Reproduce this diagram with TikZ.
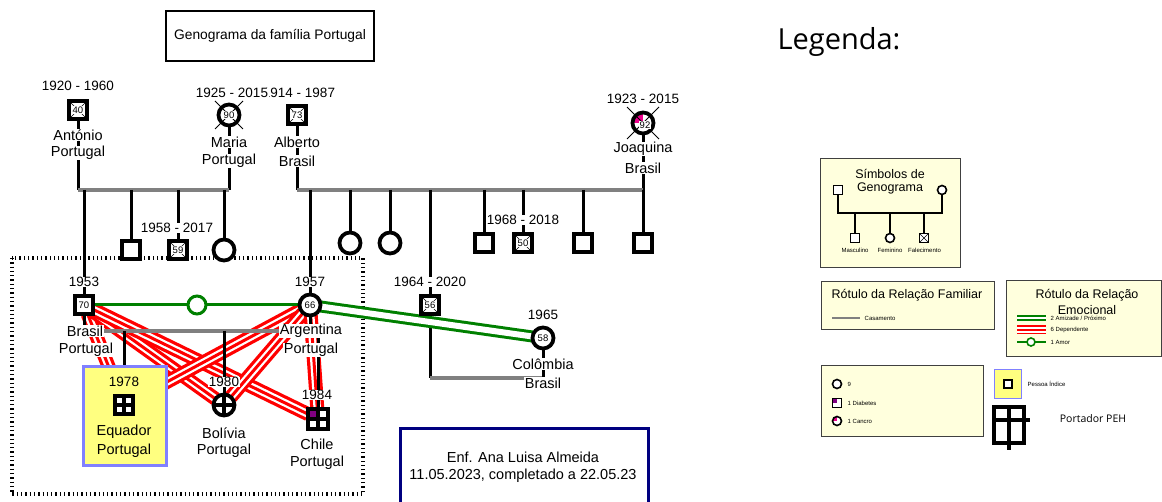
\documentclass[tikz,border=0pt]{standalone}
\usepackage{fontspec}
\setmainfont{Liberation Sans}
\newfontfamily\osans{Open Sans}
\usetikzlibrary{calc}
\definecolor{kgray}{RGB}{128,128,128}
\definecolor{lgreen}{RGB}{0,128,0}
\definecolor{idxyellow}{RGB}{255,255,128}
\definecolor{idxblue}{RGB}{128,128,255}
\definecolor{legfill}{RGB}{255,255,221}
\definecolor{navyb}{RGB}{0,0,128}
\definecolor{dpurple}{RGB}{128,0,128}
\definecolor{legdraw}{RGB}{64,64,64}
\pgfdeclarelayer{back}
\pgfsetlayers{back,main}
\begin{document}
\begin{tikzpicture}[x=1pt,y=-1pt,
  sym/.style={draw, line width=3.8pt, fill=white, inner sep=0pt, outer sep=0pt},
  male/.style={sym, rectangle, minimum size=18pt},
  female/.style={sym, circle, minimum size=21pt},
  dx/.style={path picture={\draw[line width=0.6pt] (path picture bounding box.south west) -- (path picture bounding box.north east) (path picture bounding box.north west) -- (path picture bounding box.south east);}},
  peh/.style={path picture={\draw[line width=3.2pt] (path picture bounding box.north) -- (path picture bounding box.south) (path picture bounding box.west) -- (path picture bounding box.east);}},
  txt/.style={font=\fontsize{14.5}{16}\selectfont, fill=white, inner sep=0.7pt},
  date/.style={font=\fontsize{13.5}{15}\selectfont, fill=white, inner sep=0.7pt},
  num/.style={font=\fontsize{9.5}{11}\selectfont, fill=white, inner sep=0.5pt},
  kin/.style={line width=3pt, black},
  marr/.style={line width=4pt, kgray},
  xline/.style={line width=0.8pt, black},
  friend/.style={draw=lgreen, line width=3pt, double=white, double distance=6pt},
  love/.style={draw=lgreen, line width=3pt},
  lovecirc/.style={circle, draw=lgreen, line width=3pt, fill=white, minimum size=18pt, inner sep=0pt},
  legbox/.style={draw=legdraw, fill=legfill, line width=1pt, inner sep=0pt},
  legtitle/.style={font=\fontsize{12.5}{14}\selectfont, inner sep=0.5pt},
  tiny/.style={font=\fontsize{6}{7}\selectfont, inner sep=0.5pt},
  lmale/.style={draw, line width=1.6pt, fill=white, rectangle, minimum size=9pt, inner sep=0pt},
  lfemale/.style={draw, line width=1.6pt, fill=white, circle, minimum size=9pt, inner sep=0pt},
  lkin/.style={line width=1.5pt, black}
]
\useasboundingbox (0,0) rectangle (1162,502);

% ---------- title ----------
\node[draw, line width=1.8pt, minimum width=208pt, minimum height=50pt, inner sep=0pt] (title) at (270,36) {\fontsize{13.8}{16}\selectfont Genograma da família Portugal};

% ---------- generation 1 ----------
\node[male, dx] (antonio) at (78,110) {};
\node[num] (antonioK) at (antonio) {40};
\node[date] (antonioD) at (78,86) {1920 - 1960};
\node[txt] (antonioA) at (78,135) {António};
\node[txt] (antonioB) at (78,153) {Portugal};

\node[female] (maria) at (229,115) {};
\draw[xline] ([shift={(-14,-14)}]maria.center) -- ([shift={(14,14)}]maria.center);
\draw[xline] ([shift={(-14,14)}]maria.center) -- ([shift={(14,-14)}]maria.center);
\node[num] (mariaK) at (maria) {90};
\node[txt] (mariaA) at (229,142) {Maria};
\node[txt] (mariaB) at (229,161) {Portugal};

\node[male, dx] (alberto) at (297,115) {};
\node[num] (albertoK) at (alberto) {73};
\node[date] (albertoD) at (299,93) {1914 - 1987};
\node[date] (mariaD) at (232,93) {1925 - 2015};
\node[txt] (albertoA) at (297,142) {Alberto};
\node[txt] (albertoB) at (297,161) {Brasil};

\node[female, path picture={\fill[magenta] (path picture bounding box.north west) rectangle (path picture bounding box.center);}] (joaquina) at (643,123) {};
\draw[xline] ([shift={(-16,-16)}]joaquina.center) -- ([shift={(16,16)}]joaquina.center);
\draw[xline] ([shift={(-16,16)}]joaquina.center) -- ([shift={(16,-16)}]joaquina.center);
\node[num] (joaquinaK) at ([shift={(2,2)}]joaquina.center) {92};
\node[date] (joaquinaD) at (643,99) {1923 - 2015};
\node[txt] (joaquinaA) at (643,149) {Joaquina};
\node[txt] (joaquinaB) at (643,168) {Brasil};

% children generation (siblings)
\node[male] (ca) at (131,250) {};
\node[male, dx] (cb) at (178,250) {};
\node[num] (cbK) at (cb) {59};
\node[date] (cbD) at (177,228) {1958 - 2017};
\node[female] (cc) at (224,250) {};

\node[female] (cd) at (350,243) {};
\node[female] (ce) at (390,243) {};
\node[male] (cf) at (484,243) {};
\node[male, dx] (cg) at (523,243) {};
\node[num] (cgK) at (cg) {50};
\node[date] (cgD) at (523,220) {1968 - 2018};
\node[male] (ch) at (583,243) {};
\node[male] (ci) at (643,243) {};

% ---------- generation 2 ----------
\node[male] (s1953) at (84,305) {};
\node[num] (s1953K) at (s1953) {70};
\node[date] (s1953D) at (84,282) {1953};

\node[female] (c1957) at (310,305) {};
\node[num] (c1957K) at (c1957) {66};
\node[date] (c1957D) at (310,282) {1957};

\node[male, dx] (sq56) at (430,305) {};
\node[num] (sq56K) at (sq56) {56};
\node[date] (sq56D) at (430,282) {1964 - 2020};

\node[female] (colombia) at (543,338) {};
\node[num] (colombiaK) at (colombia) {58};
\node[date] (colombiaD) at (543,315) {1965};
\node[txt] (colombiaA) at (543,364) {Colômbia};
\node[txt] (colombiaB) at (543,383) {Brasil};

\node[lovecirc] (lovec) at (197,305) {};

% index person box
\node[draw=idxblue, fill=idxyellow, line width=3pt, minimum width=83pt, minimum height=99pt, inner sep=0pt] (eqbox) at (125,416) {};
\node[male, peh] (eqs) at (124,405) {};
\node[date, fill=none] (eqD) at (124,382) {1978};
\node[txt, fill=none] (eqA) at (124,432) {Equador};
\node[txt, fill=none] (eqB) at (124,451) {Portugal};

\node[female, peh] (bol) at (224,405) {};
\node[date] (bolD) at (224,382) {1980};
\node[txt] (bolA) at (224,433) {Bolívia};
\node[txt] (bolB) at (224,451) {Portugal};

\node[male, minimum size=19.5pt, path picture={\fill[dpurple] (path picture bounding box.north west) rectangle (path picture bounding box.center); \draw[line width=3.2pt] (path picture bounding box.north) -- (path picture bounding box.south) (path picture bounding box.west) -- (path picture bounding box.east);}] (chi) at (318,419) {};
\node[date] (chiD) at (317,395) {1984};
\node[txt] (chiA) at (317,444) {Chile};
\node[txt] (chiB) at (317,463) {Portugal};

\node[txt] (s1953A) at (85,331) {Brasil};
\node[txt] (s1953B) at (86,350) {Portugal};
\node[txt] (c1957A) at (311,331) {Argentina};
\node[txt] (c1957B) at (311,350) {Portugal};

% ---------- coordinates ----------
\coordinate (m1a) at (78,190);
\coordinate (m1b) at (229,190);
\coordinate (m2a) at (297,190);
\coordinate (m2b) at (643,190);
\coordinate (k1) at (84,190);
\coordinate (k2) at (131,190);
\coordinate (k3) at (178,190);
\coordinate (k4) at (224,190);
\coordinate (k5) at (310,190);
\coordinate (k6) at (350,190);
\coordinate (k7) at (390,190);
\coordinate (k8) at (430,190);
\coordinate (k9) at (484,190);
\coordinate (k10) at (523,190);
\coordinate (k11) at (583,190);
\coordinate (k12) at (643,190);
\coordinate (m3a) at (84,331);
\coordinate (m3b) at (310,331);
\coordinate (m3k1) at (124,331);
\coordinate (m3k2) at (224,331);
\coordinate (m3k3) at (318,331);
\coordinate (m4a) at (430,378);
\coordinate (m4b) at (543,378);

% ---------- connectors (behind) ----------
\begin{pgfonlayer}{back}
\draw[line width=3.3pt, dash pattern=on 1.3pt off 3pt] (12,258) rectangle (363,494);
\draw[kin] (antonio) -- (m1a);
\draw[kin] (maria) -- (m1b);
\draw[kin] (alberto) -- (m2a);
\draw[kin] (joaquina) -- (m2b);
\draw[marr] (m1a) -- (m1b);
\draw[marr] (m2a) -- (m2b);
\draw[kin] (k1) -- (s1953);
\draw[kin] (k2) -- (ca);
\draw[kin] (k3) -- (cb);
\draw[kin] (k4) -- (cc);
\draw[kin] (k5) -- (c1957);
\draw[kin] (k6) -- (cd);
\draw[kin] (k7) -- (ce);
\draw[kin] (k8) -- (sq56);
\draw[kin] (k9) -- (cf);
\draw[kin] (k10) -- (cg);
\draw[kin] (k11) -- (ch);
\draw[kin] (k12) -- (ci);
\foreach \a/\b in {s1953/eqs, s1953/bol, s1953/chi, c1957/eqs, c1957/bol, c1957/chi}{
  \draw[red, line width=14pt] (\a) -- (\b);
  \draw[white, line width=7.5pt] (\a) -- (\b);
  \draw[red, line width=3pt] (\a) -- (\b);
}
\draw[kin] (s1953) -- (m3a);
\draw[kin] (c1957) -- (m3b);
\draw[marr] (m3a) -- (m3b);
\draw[kin] (m3k1) -- (eqbox.north -| m3k1);
\draw[kin] (m3k2) -- (bol);
\draw[kin] (m3k3) -- (chi);
\draw[love] (s1953) -- (c1957);
\draw[kin] (sq56) -- (m4a);
\draw[marr] (m4a) -- (m4b);
\draw[kin] (colombia) -- (m4b);
\draw[friend] (c1957) -- (colombia);
\end{pgfonlayer}

% ---------- author box ----------
\node[draw=navyb, line width=3pt, minimum width=248pt, minimum height=92pt, inner sep=0pt, anchor=north west] (enf) at (398.5,426.5) {};
\node[txt, fill=none] (enfA) at (523,457) {Enf. Ana Luisa Almeida};
\node[txt, fill=none] (enfB) at (523,476) {11.05.2023, completado a 22.05.23};

% ---------- legend ----------
\node[font=\osans\fontsize{29}{32}\selectfont, inner sep=0pt] (legenda) at (839,42) {Legenda:};

\node[legbox, minimum width=140pt, minimum height=109pt] (legA) at (890,213.5) {};
\node[legtitle] (legA1) at (890,174) {Símbolos de};
\node[legtitle] (legA2) at (890,188) {Genograma};
\node[lmale] (lm) at (838,190) {};
\node[lfemale] (lf) at (942,190) {};
\coordinate (lma) at (838,213);
\coordinate (lmb) at (942,213);
\coordinate (lk1) at (855,213);
\coordinate (lk2) at (890,213);
\coordinate (lk3) at (924,213);
\node[lmale] (lc1) at (855,238) {};
\node[lfemale] (lc2) at (890,238) {};
\node[lmale, dx] (lc3) at (924,238) {};
\draw[lkin] (lm) -- (lma) -- (lmb) -- (lf);
\draw[lkin] (lk1) -- (lc1);
\draw[lkin] (lk2) -- (lc2);
\draw[lkin] (lk3) -- (lc3);
\node[tiny] (lc1t) at (855,250) {Masculino};
\node[tiny] (lc2t) at (890,250) {Feminino};
\node[tiny] (lc3t) at (924.5,250) {Falecimento};

\node[legbox, minimum width=173pt, minimum height=48pt] (legB) at (907.5,306) {};
\node[legtitle] (legB1) at (907,295) {Rótulo da Relação Familiar};
\coordinate (lb1) at (832,318);
\coordinate (lb2) at (860,318);
\draw[line width=2pt, kgray] (lb1) -- (lb2);
\node[tiny, anchor=west] (lbt) at (864,318) {Casamento};

\node[legbox, minimum width=155pt, minimum height=76pt] (legC) at (1083.5,319) {};
\node[legtitle] (legC1) at (1087,295) {Rótulo da Relação};
\node[legtitle] (legC2) at (1087,310) {Emocional};
\coordinate (lc1a) at (1017,318);
\coordinate (lc1b) at (1046,318);
\coordinate (lc2a) at (1017,330);
\coordinate (lc2b) at (1046,330);
\coordinate (lc3a) at (1017,342);
\coordinate (lc3b) at (1046,342);
\draw[draw=lgreen, line width=1.6pt, double=white, double distance=2.6pt] (lc1a) -- (lc1b);
\draw[red, line width=9pt] (lc2a) -- (lc2b);
\draw[white, line width=5.5pt] (lc2a) -- (lc2b);
\draw[red, line width=1.8pt] (lc2a) -- (lc2b);
\draw[lgreen, line width=1.6pt] (lc3a) -- (lc3b);
\node[circle, draw=lgreen, line width=1.6pt, fill=white, minimum size=8pt, inner sep=0pt] (lc3c) at (1031,342) {};
\node[tiny, anchor=west] (lct1) at (1050,318) {2 Amizade / Próximo};
\node[tiny, anchor=west] (lct2) at (1050,330) {6 Dependente};
\node[tiny, anchor=west] (lct3) at (1050,342) {1 Amor};

\node[legbox, minimum width=162pt, minimum height=70pt] (legD) at (902,401) {};
\node[lfemale] (ld1) at (837,384) {};
\node[tiny, anchor=west] (ld1t) at (847,384) {9};
\node[lmale, path picture={\fill[dpurple] (path picture bounding box.north west) rectangle (path picture bounding box.center);}] (ld2) at (837,403) {};
\node[tiny, anchor=west] (ld2t) at (847,403) {1 Diabetes};
\node[lfemale, path picture={\fill[magenta] (path picture bounding box.north west) rectangle (path picture bounding box.center);}] (ld3) at (837,421) {};
\node[tiny, anchor=west] (ld3t) at (847,421) {1 Cancro};

\node[draw=idxblue, fill=idxyellow, line width=1.5pt, minimum width=27pt, minimum height=29pt, inner sep=0pt] (lidx) at (1008,384) {};
\node[draw, line width=2pt, fill=white, minimum size=8pt, inner sep=0pt] (lidxs) at (1008,384) {};
\node[tiny, anchor=west] (lidxt) at (1027,384) {Pessoa Índice};

\node[draw, line width=4.2pt, minimum width=30pt, minimum height=36pt, inner sep=0pt] (lpeh) at (1009,425) {};
\coordinate (lpv1) at (1009,407);
\coordinate (lpv2) at (1009,450);
\coordinate (lph1) at (995,420);
\coordinate (lph2) at (1030,420);
\draw[line width=4.2pt] (lpv1) -- (lpv2);
\draw[line width=4.2pt] (lph1) -- (lph2);
\node[font=\osans\fontsize{10.5}{12}\selectfont, inner sep=0pt] (lpehT) at (1093,419) {Portador PEH};
\end{tikzpicture}
\end{document}
